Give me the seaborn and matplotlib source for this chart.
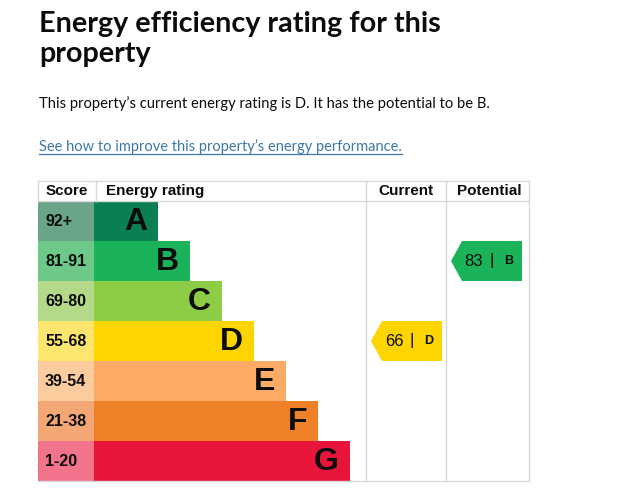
import numpy as np
import pandas as pd
import seaborn as sns
import matplotlib.pyplot as plt
from matplotlib.patches import Polygon

# EPC bands, score ranges and colours
bands = ["A", "B", "C", "D", "E", "F", "G"]
score_ranges = ["92+", "81-91", "69-80", "55-68", "39-54", "21-38", "1-20"]
band_length = [2, 3, 4, 5, 6, 7, 8]
bar_colors = ["#0a8052", "#1bb35a", "#8dcd46", "#fed401", "#fcab66", "#ee8027", "#e8153b"]
score_colors = ["#6aa58a", "#6dc98a", "#b4da89", "#fee56d", "#fdcc9e", "#f3a774", "#f2748c"]
headers = ["Score", "Energy rating", "Current", "Potential"]

current_score, current_band = 66, "D"
potential_score, potential_band = 83, "B"

title_lines = ["Energy efficiency rating for this", "property"]
summary = "This property\u2019s current energy rating is D. It has the potential to be B."
link_text = "See how to improve this property\u2019s energy performance."

INK = "#0b0c0c"
GRID = "#d9d9d9"
LINK = "#3d78a8"

W, H = 632, 504
plt.rcParams["font.family"] = ["Liberation Sans", "DejaVu Sans"]

fig = plt.figure(figsize=(W / 100, H / 100), dpi=100)

# table area: x origin at px 94, one band step = 32 px; header is half a row
ax = fig.add_axes([38 / W, (H - 481) / H, (529 - 38) / W, 300 / H])


def tx(px):
    return (px - 94) / 32


df = pd.DataFrame({"band": bands, "length": band_length})
sns.barplot(data=df, x="length", y="band", hue="band", palette=bar_colors,
            width=1.0, saturation=1, legend=False, ax=ax)
# lighter score column on the left of each band
ax.barh(range(len(bands)), tx(94) - tx(38), left=tx(38), height=1.0,
        color=score_colors, linewidth=0)

for i, (b, s, L) in enumerate(zip(bands, score_ranges, band_length)):
    ax.text(L - 11 / 32, i + 0.02, b, ha="right", va="center", fontsize=23,
            fontweight="bold", color=INK)
    ax.text(tx(45), i, s, ha="left", va="center", fontsize=11.5,
            fontweight="bold", color=INK)


def rating_arrow(band, score, right_px, tip_px):
    i = bands.index(band)
    xr, xt, xs = tx(right_px), tx(tip_px), tx(tip_px + 11)
    ax.add_patch(Polygon([(xt, i), (xs, i - 0.5), (xr, i - 0.5),
                          (xr, i + 0.5), (xs, i + 0.5)],
                         closed=True, fc=bar_colors[i], ec="none"))
    ax.text(tx(right_px - 48), i, str(score), ha="center", va="center",
            fontsize=12, color=INK)
    ax.text(tx(right_px - 30), i, "|", ha="center", va="center",
            fontsize=12, color=INK)
    ax.text(tx(right_px - 13.5), i, band, ha="center", va="center",
            fontsize=9, fontweight="bold", color=INK)


rating_arrow(current_band, current_score, 442, 371)
rating_arrow(potential_band, potential_score, 522, 451)

ax.set_xlim(tx(38), tx(529))
ax.set_ylim(len(bands) - 0.5, -1.0)
ax.axis("off")

# overlay in pixel coordinates for the text block and table rules
ov = fig.add_axes([0, 0, 1, 1])
ov.set_xlim(0, W)
ov.set_ylim(H, 0)
ov.axis("off")

ov.text(39, 32, title_lines[0], family="Lato", fontweight="bold",
        fontsize=20.7, color=INK, va="baseline")
ov.text(39, 62, title_lines[1], family="Lato", fontweight="bold",
        fontsize=20.7, color=INK, va="baseline")
ov.text(39, 108, summary, family="Lato", fontsize=10.6, color=INK, va="baseline")
lt = ov.text(39, 151, link_text, family="Lato", fontsize=10.55, color=LINK,
             va="baseline")
fig.canvas.draw()
bb = lt.get_window_extent()
ov.plot([39, 39 + bb.width], [153.5, 153.5], color=LINK, lw=0.9)

for x, t in zip([46, 106, 378, 457], headers):
    ov.text(x, 191, t, ha="left", va="center", fontsize=11,
            fontweight="bold", color=INK)

ov.plot([38, 529], [181, 181], color=GRID, lw=1)
ov.plot([38, 529], [201, 201], color=GRID, lw=1)
ov.plot([38, 529], [481, 481], color=GRID, lw=1)
for x in [38, 96]:
    ov.plot([x, x], [181, 201], color=GRID, lw=1)
for x in [366, 446, 529]:
    ov.plot([x, x], [181, 481], color=GRID, lw=1)

fig.savefig("out.png", dpi=100)
